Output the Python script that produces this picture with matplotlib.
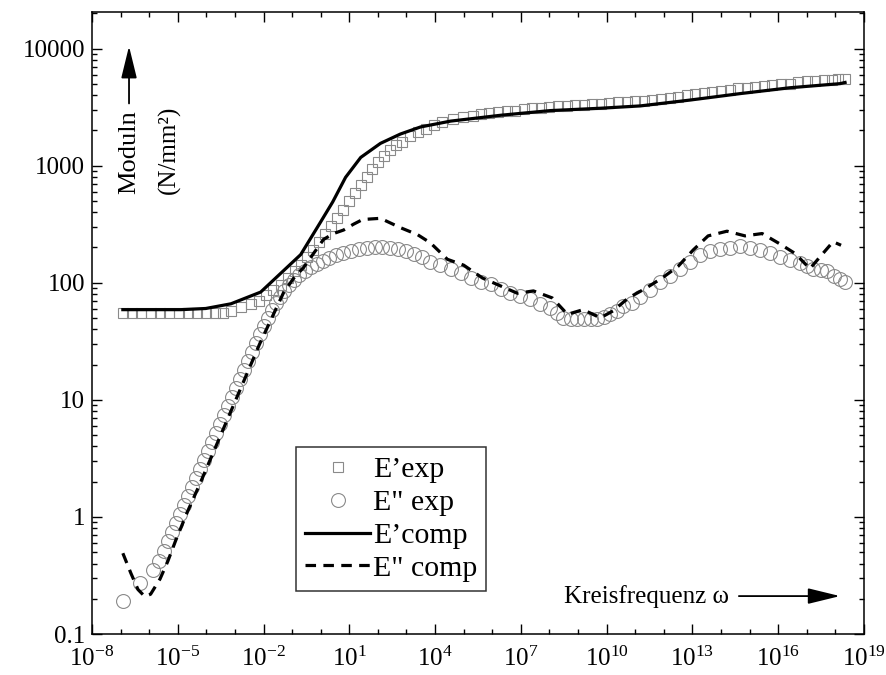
import numpy as np
import matplotlib
matplotlib.use("Agg")
import matplotlib.pyplot as plt
from matplotlib.ticker import FixedLocator, NullFormatter, LogLocator

plt.rcParams["font.family"] = ["Liberation Serif", "DejaVu Serif"]
plt.rcParams["mathtext.fontset"] = "custom"
plt.rcParams["mathtext.rm"] = "Liberation Serif"
plt.rcParams["mathtext.it"] = "Liberation Serif:italic"
plt.rcParams["mathtext.bf"] = "Liberation Serif:bold"

# (log10 omega, log10 modulus)
e1_exp = [
    (-6.92, 1.74), (-6.60, 1.74), (-6.27, 1.74), (-5.95, 1.74), (-5.62, 1.74),
    (-5.30, 1.74), (-4.97, 1.74), (-4.65, 1.74), (-4.32, 1.74), (-4.00, 1.74),
    (-3.70, 1.74), (-3.42, 1.745), (-3.14, 1.756), (-2.80, 1.79), (-2.45, 1.816),
    (-2.17, 1.841), (-1.92, 1.893), (-1.68, 1.935), (-1.40, 1.978), (-1.15, 2.038),
    (-0.91, 2.097), (-0.70, 2.148), (-0.49, 2.217), (-0.28, 2.276), (-0.07, 2.345),
    (0.14, 2.413), (0.35, 2.481), (0.56, 2.549), (0.77, 2.618), (0.98, 2.695),
    (1.19, 2.763), (1.40, 2.831), (1.61, 2.899), (1.81, 2.968), (2.02, 3.027),
    (2.23, 3.078), (2.44, 3.13), (2.65, 3.172), (2.86, 3.206), (3.14, 3.249),
    (3.42, 3.283), (3.70, 3.317), (3.98, 3.343), (4.26, 3.369), (4.61, 3.394),
    (4.96, 3.411), (5.31, 3.428), (5.60, 3.44), (5.90, 3.45), (6.20, 3.46),
    (6.50, 3.465), (6.80, 3.47), (7.10, 3.48), (7.40, 3.49), (7.70, 3.495),
    (8.00, 3.50), (8.30, 3.505), (8.60, 3.51), (8.90, 3.515), (9.20, 3.52),
    (9.50, 3.525), (9.80, 3.53), (10.10, 3.535), (10.40, 3.54), (10.70, 3.545),
    (11.00, 3.55), (11.30, 3.555), (11.60, 3.56), (11.90, 3.57), (12.20, 3.58),
    (12.50, 3.59), (12.80, 3.60), (13.10, 3.61), (13.40, 3.62), (13.70, 3.63),
    (14.00, 3.64), (14.30, 3.65), (14.60, 3.66), (14.90, 3.665), (15.20, 3.67),
    (15.50, 3.68), (15.80, 3.69), (16.10, 3.695), (16.40, 3.70), (16.70, 3.71),
    (17.00, 3.72), (17.30, 3.725), (17.60, 3.73), (17.90, 3.735), (18.10, 3.74),
    (18.34, 3.74),
]

e2_exp = [
    (-6.92, -0.72), (-6.32, -0.56), (-5.87, -0.45), (-5.66, -0.377), (-5.49, -0.292),
    (-5.35, -0.206), (-5.21, -0.130), (-5.07, -0.053), (-4.93, 0.024), (-4.79, 0.101),
    (-4.65, 0.177), (-4.51, 0.254), (-4.37, 0.331), (-4.23, 0.408), (-4.09, 0.485),
    (-3.95, 0.561), (-3.81, 0.638), (-3.67, 0.715), (-3.53, 0.792), (-3.39, 0.869),
    (-3.25, 0.945), (-3.11, 1.022), (-2.97, 1.099), (-2.83, 1.176), (-2.69, 1.253),
    (-2.55, 1.329), (-2.41, 1.406), (-2.27, 1.483), (-2.13, 1.560), (-1.99, 1.628),
    (-1.85, 1.696), (-1.71, 1.765), (-1.57, 1.824), (-1.43, 1.875), (-1.29, 1.927),
    (-1.12, 1.978), (-0.94, 2.020), (-0.77, 2.063), (-0.56, 2.097), (-0.35, 2.131),
    (-0.14, 2.157), (0.07, 2.183), (0.28, 2.208), (0.52, 2.234), (0.77, 2.251),
    (1.05, 2.268), (1.33, 2.285), (1.61, 2.294), (1.89, 2.302), (2.16, 2.302),
    (2.44, 2.294), (2.72, 2.285), (3.00, 2.268), (3.28, 2.242), (3.56, 2.217),
    (3.84, 2.18), (4.19, 2.15), (4.54, 2.12), (4.89, 2.08), (5.24, 2.04),
    (5.59, 2.01), (5.94, 1.99), (6.29, 1.95), (6.63, 1.91), (6.98, 1.89),
    (7.33, 1.86), (7.68, 1.82), (8.03, 1.78), (8.26, 1.74), (8.49, 1.70),
    (8.74, 1.69), (8.98, 1.69), (9.20, 1.69), (9.45, 1.69), (9.67, 1.69),
    (9.90, 1.71), (10.13, 1.73), (10.35, 1.76), (10.58, 1.80), (10.88, 1.83),
    (11.18, 1.88), (11.50, 1.94), (11.87, 2.01), (12.20, 2.06), (12.57, 2.12),
    (12.90, 2.18), (13.27, 2.24), (13.60, 2.27), (13.97, 2.29), (14.30, 2.30),
    (14.67, 2.31), (15.00, 2.30), (15.37, 2.28), (15.70, 2.25), (16.07, 2.22),
    (16.40, 2.19), (16.76, 2.17), (17.00, 2.14), (17.22, 2.12), (17.50, 2.11),
    (17.71, 2.10), (17.95, 2.06), (18.16, 2.03), (18.34, 2.01),
]

e1_comp = [
    (-6.92, 1.77), (-4.89, 1.77), (-4.02, 1.78), (-3.14, 1.82), (-2.62, 1.87),
    (-2.10, 1.92), (-1.75, 2.00), (-1.40, 2.08), (-1.05, 2.16), (-0.70, 2.24),
    (-0.35, 2.38), (0.00, 2.52), (0.42, 2.69), (0.87, 2.90), (1.40, 3.07),
    (2.09, 3.19), (2.79, 3.27), (3.49, 3.33), (4.54, 3.38), (6.29, 3.43),
    (8.03, 3.47), (9.78, 3.49), (11.18, 3.51), (12.92, 3.56), (14.67, 3.615),
    (16.41, 3.665), (18.16, 3.70), (18.34, 3.71),
]

e2_comp = [
    (-6.92, -0.31), (-6.64, -0.48), (-6.39, -0.62), (-6.15, -0.68), (-5.95, -0.66),
    (-5.62, -0.53), (-5.35, -0.38), (-5.07, -0.20), (-4.65, 0.05), (-4.23, 0.28),
    (-3.81, 0.52), (-3.39, 0.76), (-2.97, 1.00), (-2.55, 1.24), (-2.13, 1.48),
    (-1.71, 1.70), (-1.29, 1.92), (-0.94, 2.04), (-0.60, 2.13), (-0.25, 2.25),
    (0.10, 2.37), (0.45, 2.42), (0.80, 2.45), (1.15, 2.50), (1.47, 2.54),
    (2.09, 2.55), (2.79, 2.47), (3.39, 2.41), (3.84, 2.34), (4.43, 2.20),
    (5.00, 2.15), (5.66, 2.04), (6.22, 1.98), (6.88, 1.91), (7.44, 1.93),
    (8.10, 1.87), (8.63, 1.73), (9.18, 1.77), (9.78, 1.70), (10.23, 1.76),
    (10.76, 1.87), (11.35, 1.95), (11.94, 2.04), (12.50, 2.14), (13.03, 2.28),
    (13.55, 2.40), (14.21, 2.44), (14.84, 2.40), (15.44, 2.42), (16.07, 2.33),
    (16.59, 2.25), (17.11, 2.12), (17.53, 2.24), (17.92, 2.35), (18.20, 2.32),
]

x_major_exp = [-8, -5, -2, 1, 4, 7, 10, 13, 16, 19]
y_major = [0.1, 1, 10, 100, 1000, 10000]
y_labels = ["0.1", "1", "10", "100", "1000", "10000"]


def unlog(pairs):
    a = np.array(pairs, dtype=float)
    return 10.0 ** a[:, 0], 10.0 ** a[:, 1]


fig = plt.figure(figsize=(8.86, 6.75), dpi=100)
ax = fig.add_axes([0.1038, 0.0607, 0.8713, 0.9215])

gray = "#8a8a8a"
x, y = unlog(e1_exp)
ax.plot(x, y, ls="none", marker="s", ms=7.5, mfc="none", mec=gray, mew=0.8,
        label="E\u2019exp", zorder=2)
x, y = unlog(e2_exp)
ax.plot(x, y, ls="none", marker="o", ms=10, mfc="none", mec=gray, mew=0.8,
        label="E\" exp", zorder=2)
x, y = unlog(e1_comp)
ax.plot(x, y, color="black", lw=2.3, label="E\u2019comp", zorder=3)
x, y = unlog(e2_comp)
ax.plot(x, y, color="black", lw=2.3, ls=(0, (3.3, 2.3)), label="E\" comp", zorder=3)

ax.set_xscale("log")
ax.set_yscale("log")
ax.set_xlim(1e-8, 1e19)
ax.set_ylim(0.1, 2.05e4)

ax.xaxis.set_major_locator(FixedLocator([10.0 ** e for e in x_major_exp]))
ax.set_xticklabels([r"$10^{%d}$" % e for e in x_major_exp])
ax.xaxis.set_minor_locator(FixedLocator([10.0 ** e for e in range(-8, 20)]))
ax.xaxis.set_minor_formatter(NullFormatter())

ax.yaxis.set_major_locator(FixedLocator(y_major))
ax.set_yticklabels(y_labels)
ax.yaxis.set_minor_locator(LogLocator(base=10, subs=np.arange(2, 10), numticks=20))
ax.yaxis.set_minor_formatter(NullFormatter())

ax.tick_params(which="both", direction="in", top=True, right=True, width=1.0,
               labelsize=18)
ax.tick_params(which="major", length=7)
ax.tick_params(which="minor", length=3.5)
ax.tick_params(axis="x", which="major", pad=9)
ax.tick_params(axis="y", which="major", pad=5)
for s in ax.spines.values():
    s.set_linewidth(1.1)

leg = ax.legend(loc="upper left", bbox_to_anchor=(0.264, 0.30), borderaxespad=0,
                fontsize=21.5, frameon=True, fancybox=False, handlelength=2.2,
                handletextpad=0.08, labelspacing=0.2, borderpad=0.3)
leg.get_frame().set_edgecolor("black")
leg.get_frame().set_linewidth(1.1)

# axis annotations with arrows
ax.text(0.048, 0.775, "Moduln", rotation=90, fontsize=19, ha="center", va="center",
        transform=ax.transAxes)
ax.text(0.0996, 0.778, "(N/mm\u00b2)", rotation=90, fontsize=18, ha="center",
        va="center", transform=ax.transAxes)
arrow = dict(arrowstyle="-|>,head_length=0.9,head_width=0.22", color="black",
             lw=1.3, mutation_scale=22, shrinkA=0, shrinkB=0)
ax.annotate("", xy=(0.048, 0.945), xytext=(0.048, 0.853),
            xycoords="axes fraction", arrowprops=arrow)
ax.text(0.611, 0.061, "Kreisfrequenz \u03c9", fontsize=18, ha="left", va="center",
        transform=ax.transAxes)
ax.annotate("", xy=(0.969, 0.061), xytext=(0.838, 0.061),
            xycoords="axes fraction", arrowprops=arrow)

fig.savefig("out.png", dpi=100)
